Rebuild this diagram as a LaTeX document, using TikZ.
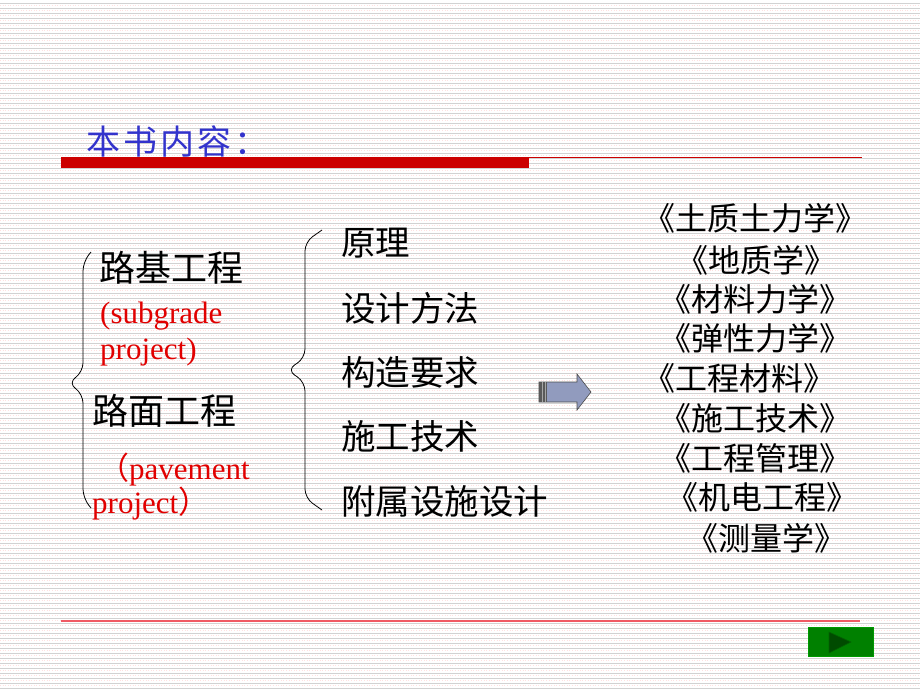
\documentclass[tikz,border=0pt]{standalone}
\usepackage{fontspec}
\setmainfont{Liberation Serif}
\newfontfamily\cjk{Noto Sans CJK SC}
\newfontfamily\cjktitle[LetterSpace=9]{Noto Sans CJK SC}
\definecolor{titleblue}{RGB}{51,51,204}
\definecolor{barred}{RGB}{204,0,0}
\definecolor{linered}{RGB}{240,90,100}
\definecolor{textred}{RGB}{225,0,0}
\definecolor{arrowfill}{RGB}{145,155,190}
\definecolor{btngreen}{RGB}{0,128,0}
\definecolor{btndark}{RGB}{0,75,0}

\begin{document}
\begin{tikzpicture}[x=1pt,y=-1pt,
            stripe/.style={gray!35, line width=0.9pt},
            faint/.style={red!12, line width=0.6pt, dotted},
            project/.style={anchor=west, inner sep=0pt, font=\cjk\fontsize{36}{36}\selectfont},
            english/.style={anchor=west, inner sep=0pt, text=textred, font=\fontsize{31}{31}\selectfont},
            topic/.style={anchor=west, inner sep=0pt, font=\cjk\fontsize{34.5}{34.5}\selectfont},
            book/.style={anchor=west, inner sep=0pt, font=\cjk\fontsize{32}{32}\selectfont},
            bracket/.style={draw, line width=0.8pt, rounded corners=9pt}]

            \useasboundingbox (0,0) rectangle (920,690);
            \fill[white] (0,0) rectangle (920,690);
            \foreach \y in {3,8,...,688}{
                \draw[stripe] (0,\y) -- (920,\y);
                \draw[faint] (0,\y+2.5) -- (920,\y+2.5);
            }

            % title and rules
            \node[anchor=west, inner sep=0pt, text=titleblue,
                  font=\cjktitle\fontsize{34}{34}\selectfont] (title) at (86,141) {本书内容：};
            \fill[barred] (61,157) rectangle (529,168);
            \draw[barred, line width=1.2pt] (529,157.5) -- (862,157.5);
            \draw[linered, line width=2pt] (61,621) -- (860,621);

            % projects
            \node[project] (subgrade) at (99,268) {路基工程};
            \node[english] (subgradeEn) at (100,316) {(subgrade};
            \node[english] (subgradePr) at (100,352) {project)};
            \node[project] (pavement) at (92,411) {路面工程};
            \node[english] (pavementEn) at (98,470) {\cjk（\rmfamily pavement};
            \node[english] (pavementPr) at (92,504) {project\cjk）};
            \draw[bracket] (91,252) -- (83,262) -- (83,372) -- (68,383)
                -- (83,394) -- (83,498) -- (91,508);

            % topics
            \node[topic] (theory) at (341,243) {原理};
            \node[topic] (design) at (341,308) {设计方法};
            \node[topic] (detail) at (341,372) {构造要求};
            \node[topic] (build) at (341,436) {施工技术};
            \node[topic] (facility) at (341,501) {附属设施设计};
            \draw[bracket] (322,230) -- (305,242) -- (305,358) -- (287,370)
                -- (305,382) -- (305,498) -- (322,510);

            % arrow
            \filldraw[fill=arrowfill, draw=black!70, line width=0.6pt]
                (539,382) -- (577,382) -- (577,374) -- (591,392) -- (577,410)
                -- (577,402) -- (539,402) -- cycle;
            \fill[black!65] (539,382) rectangle (547,402);
            \draw[black!35, line width=0.8pt] (542,382) -- (542,402) (545,382) -- (545,402);

            % books
            \foreach \name/\x/\y/\txt in {
                    soil/643/218/《土质土力学》, geology/676/260/《地质学》,
                    material/659/299/《材料力学》, elastic/659/338/《弹性力学》,
                    engmat/643/378/《工程材料》, tech/659/418/《施工技术》,
                    manage/659/458/《工程管理》, mech/666/497/《机电工程》,
                    survey/686/538/《测量学》}
                \node[book] (\name) at (\x,\y) {\txt};

            % next button
            \filldraw[fill=btngreen, draw=green!60!black, line width=0.8pt]
                (808,627) rectangle (873,656);
            \filldraw[fill=btndark, draw=black!60!green, line width=0.6pt]
                (829,632) -- (851,642) -- (829,653) -- cycle;
        \end{tikzpicture}
\end{document}
